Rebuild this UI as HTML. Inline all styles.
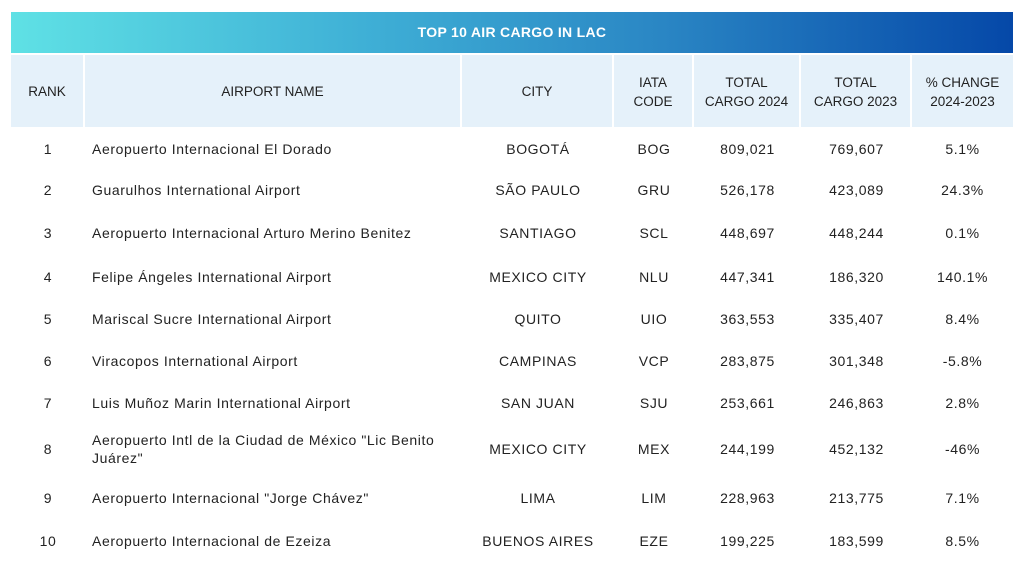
<!DOCTYPE html>
<html><head><meta charset="utf-8"><style>
*{margin:0;padding:0;box-sizing:border-box}
body{width:1024px;height:576px;background:#fff;font-family:"Liberation Sans",sans-serif;color:#222;position:relative;overflow:hidden}
.title{position:absolute;left:11px;top:12px;width:1002px;height:41px;background:linear-gradient(90deg,#5fe1e5 0%,#3fb0d6 35%,#2a86c4 65%,#0548a8 100%);color:#fff;font-weight:bold;font-size:14px;text-align:center;line-height:41px;letter-spacing:0.3px}
.hdr{position:absolute;top:55px;height:72px;background:#e5f1fa;font-size:13.5px;display:flex;align-items:center;justify-content:center;text-align:center;line-height:19px;border-right:2px solid #fff;padding-top:1px}
.c{position:absolute;font-size:14px;letter-spacing:0.6px;transform:translateY(-50%);line-height:18px}
.ctr{text-align:center}
</style></head><body>
<div class="title">TOP 10 AIR CARGO IN LAC</div>
<div class="hdr" style="left:11px;width:74px">RANK</div>
<div class="hdr" style="left:85px;width:377px">AIRPORT NAME</div>
<div class="hdr" style="left:462px;width:152px">CITY</div>
<div class="hdr" style="left:614px;width:80px">IATA<br>CODE</div>
<div class="hdr" style="left:694px;width:107px">TOTAL<br>CARGO 2024</div>
<div class="hdr" style="left:801px;width:111px">TOTAL<br>CARGO 2023</div>
<div class="hdr" style="left:912px;width:101px;border-right:none">% CHANGE<br>2024-2023</div>
<div id="rows"></div>
<script>
var d=[[149,"1","Aeropuerto Internacional El Dorado","BOGOTÁ","BOG","809,021","769,607","5.1%"],
[190,"2","Guarulhos International Airport","SÃO PAULO","GRU","526,178","423,089","24.3%"],
[233,"3","Aeropuerto Internacional Arturo Merino Benitez","SANTIAGO","SCL","448,697","448,244","0.1%"],
[277,"4","Felipe Ángeles International Airport","MEXICO CITY","NLU","447,341","186,320","140.1%"],
[319,"5","Mariscal Sucre International Airport","QUITO","UIO","363,553","335,407","8.4%"],
[361,"6","Viracopos International Airport","CAMPINAS","VCP","283,875","301,348","-5.8%"],
[403,"7","Luis Muñoz Marin International Airport","SAN JUAN","SJU","253,661","246,863","2.8%"],
[449,"8","Aeropuerto Intl de la Ciudad de México \"Lic Benito<br>Juárez\"","MEXICO CITY","MEX","244,199","452,132","-46%"],
[498,"9","Aeropuerto Internacional \"Jorge Chávez\"","LIMA","LIM","228,963","213,775","7.1%"],
[541,"10","Aeropuerto Internacional de Ezeiza","BUENOS AIRES","EZE","199,225","183,599","8.5%"]];
var cols=[[11,74],[92,370],[462,152],[614,80],[694,107],[801,111],[912,101]];
var h="";
d.forEach(function(r){for(var i=0;i<7;i++){var c=cols[i];h+='<div class="c'+(i==1?'':' ctr')+'" style="top:'+r[0]+'px;left:'+c[0]+'px;width:'+c[1]+'px">'+r[i+1]+'</div>';}});
document.getElementById("rows").innerHTML=h;
</script>
</body></html>
